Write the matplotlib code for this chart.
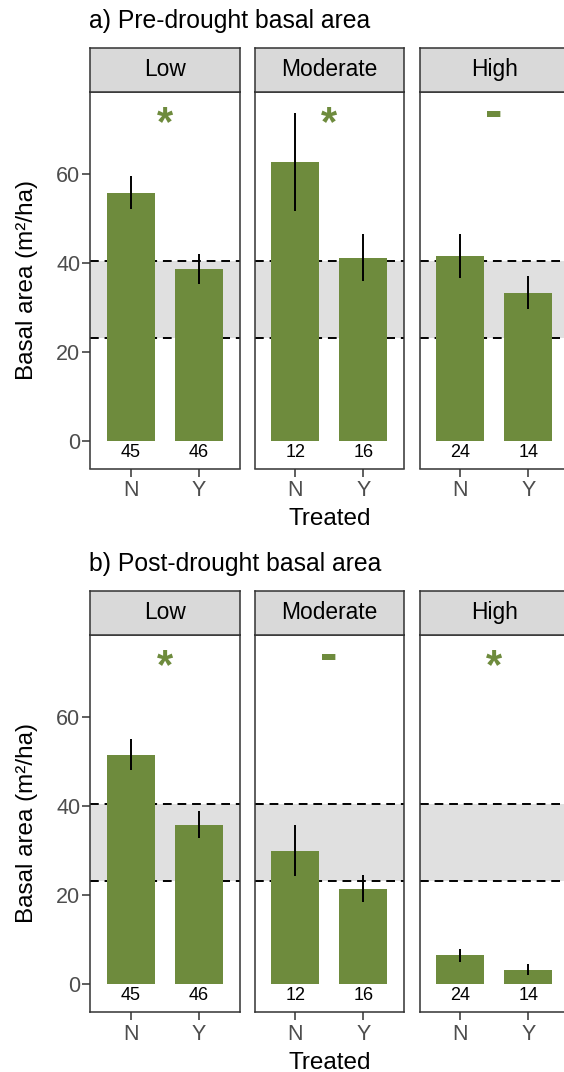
import numpy as np
import matplotlib
matplotlib.use("Agg")
import matplotlib.pyplot as plt

plt.rcParams['font.family'] = ['Liberation Sans', 'DejaVu Sans']

# data
severity = ['Low', 'Moderate', 'High']
treated = ['N', 'Y']
pre_mean = [[55.8, 38.6], [62.8, 41.2], [41.6, 33.3]]
pre_err = [[3.75, 3.3], [11.05, 5.2], [4.9, 3.65]]
post_mean = [[51.6, 35.8], [30.0, 21.4], [6.4, 3.2]]
post_err = [[3.5, 3.0], [5.7, 3.0], [1.5, 1.3]]
n_plots = [[45, 46], [12, 16], [24, 14]]
pre_sig = ['*', '*', '-']
post_sig = ['*', '-', '*']
ref_lo, ref_hi = 23.1, 40.5
yticks = [0, 20, 40, 60]
titles = ['a) Pre-drought basal area', 'b) Post-drought basal area']

green = '#6E8B3D'
dark = '#333333'
W, H = 564, 1072
fig = plt.figure(figsize=(W / 100, H / 100), dpi=100)


def px(x0, y0, w, h):
    # pixel box (top-left origin) -> figure fraction
    return [x0 / W, 1 - (y0 + h) / H, w / W, h / H]


panel_x = [90, 254.5, 419.5]
panel_w = 149.5


def draw_block(top, means, errs, sig, title):
    strip_top = top
    strip_h = 44
    ax_top = strip_top + strip_h
    ax_h = 377
    fig.text(89 / W, 1 - (strip_top - 19.5) / H, title, fontsize=17.8,
             ha='left', va='baseline')
    for i, sev in enumerate(severity):
        ax = fig.add_axes(px(panel_x[i], ax_top, panel_w, ax_h))
        x = np.arange(len(treated))
        ax.axhspan(ref_lo, ref_hi, color='#E0E0E0', lw=0, zorder=0)
        for yy in (ref_lo, ref_hi):
            ax.axhline(yy, color='black', lw=1.4, ls=(0, (4.5, 3)), zorder=1)
        ax.bar(x, means[i], width=0.7, color=green, zorder=2)
        ax.errorbar(x, means[i], yerr=errs[i], fmt='none', ecolor='black',
                    elinewidth=1.4, capsize=0, zorder=3)
        for j in range(len(treated)):
            ax.text(x[j], -2.7, str(n_plots[i][j]), ha='center', va='center',
                    fontsize=13)
        if sig[i] == '*':
            ax.text(0.5, 71.2, '*', ha='center', va='center', fontsize=30,
                    fontweight='bold', color=green)
        else:
            ax.text(0.5, 73.6, '-', ha='center', va='center', fontsize=38,
                    fontweight='bold', color=green)
        ax.set_xlim(-0.6, 1.6)
        ax.set_ylim(-6.3, 78.6)
        ax.set_xticks(x)
        ax.set_xticklabels(treated)
        ax.set_yticks(yticks)
        if i == 0:
            ax.set_yticklabels([str(v) for v in yticks])
            ax.tick_params(axis='y', length=5.5, width=1.1, color=dark,
                           labelsize=15.5, labelcolor='#4D4D4D', pad=1.5)
        else:
            ax.tick_params(axis='y', length=0, labelleft=False)
        ax.tick_params(axis='x', length=5.5, width=1.1, color=dark,
                       labelsize=15.5, labelcolor='#4D4D4D', pad=3)
        for s in ax.spines.values():
            s.set_color(dark)
            s.set_linewidth(1.1)
        # facet strip
        sx = fig.add_axes(px(panel_x[i], strip_top, panel_w, strip_h))
        sx.set_facecolor('#D9D9D9')
        sx.set_xticks([])
        sx.set_yticks([])
        for s in sx.spines.values():
            s.set_color(dark)
            s.set_linewidth(1.1)
        sx.text(0.5, 0.5, sev, ha='center', va='center', fontsize=16.4,
                transform=sx.transAxes)
    # shared axis titles
    fig.text(27 / W, 1 - (ax_top + ax_h / 2) / H, 'Basal area (m²/ha)',
             rotation=90, ha='center', va='center', fontsize=17.5)
    fig.text(329.5 / W, 1 - (ax_top + ax_h + 57) / H, 'Treated',
             ha='center', va='baseline', fontsize=17.5)


draw_block(47.5, pre_mean, pre_err, pre_sig, titles[0])
draw_block(590.7, post_mean, post_err, post_sig, titles[1])

fig.savefig('out.png', dpi=100)
